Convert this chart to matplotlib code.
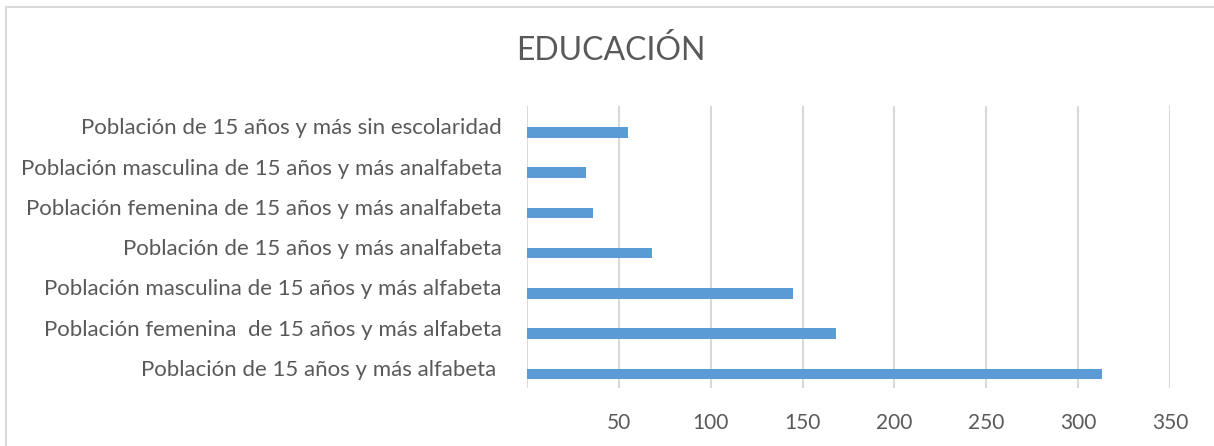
import numpy as np
import matplotlib.pyplot as plt
from matplotlib.patches import Rectangle

categorias = [
    "Población de 15 años y más alfabeta ",
    "Población femenina  de 15 años y más alfabeta",
    "Población masculina de 15 años y más alfabeta",
    "Población de 15 años y más analfabeta",
    "Población femenina de 15 años y más analfabeta",
    "Población masculina de 15 años y más analfabeta",
    "Población de 15 años y más sin escolaridad",
]
valores = [313, 168, 145, 68, 36, 32, 55]
ticks_x = [50, 100, 150, 200, 250, 300, 350]

gris = "#595959"
plt.rcParams["font.family"] = ["Lato", "DejaVu Sans"]

fig = plt.figure(figsize=(12.14, 4.46), dpi=100)
ax = fig.add_axes([0.434, 0.130, 0.5298, 0.632])

# borde del grafico
fig.patches.append(Rectangle((6 / 1214, -0.1), 1.2, 1 - 7 / 446 + 0.1,
                             transform=fig.transFigure, fill=False,
                             edgecolor="#d9d9d9", linewidth=1.5))

pos = np.arange(len(categorias))
ax.barh(pos - 0.15, valores, height=0.26, color="#5b9bd5", zorder=3)

ax.set_xlim(0, 350)
ax.set_ylim(-0.5, len(categorias) - 0.5)
ax.set_xticks(ticks_x)
ax.set_xticklabels([str(t) for t in ticks_x], fontsize=15, color=gris)
ax.set_yticks(pos)
ax.set_yticklabels(categorias, fontsize=16, color=gris)
ax.tick_params(axis="both", length=0)
ax.tick_params(axis="y", pad=18)
ax.tick_params(axis="x", pad=18)

ax.grid(axis="x", color="#d9d9d9", linewidth=1.5, zorder=0)
ax.axvline(0, color="#d9d9d9", linewidth=1.5, zorder=1)
for s in ax.spines.values():
    s.set_visible(False)

fig.text(0.503, 0.886, "EDUCACIÓN", ha="center", va="center",
         fontsize=23, color=gris)

fig.savefig("out.png", dpi=100)
